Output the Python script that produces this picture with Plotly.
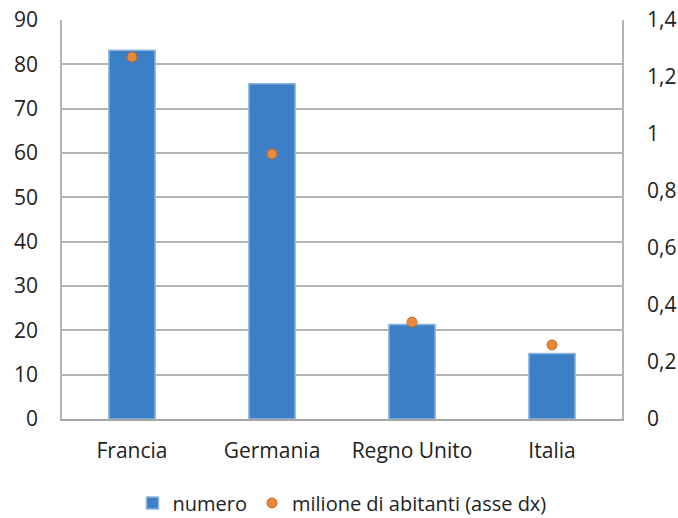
import plotly.graph_objects as go

categories = ["Francia", "Germania", "Regno Unito", "Italia"]
numero = [83.2, 75.6, 21.3, 14.8]
abitanti = [1.27, 0.93, 0.34, 0.26]

fig = go.Figure()
fig.add_trace(go.Bar(
    x=categories, y=numero, name="numero",
    marker=dict(color="#3B80C6", line=dict(color="#8FB4DE", width=1.5)),
    width=0.33, yaxis="y",
))
fig.add_trace(go.Scatter(
    x=categories, y=abitanti, name="milione di abitanti (asse dx)",
    mode="markers",
    marker=dict(color="#E8893A", size=10, symbol="circle",
                line=dict(color="#C46A26", width=1)),
    yaxis="y2",
))

fig.update_layout(
    width=678, height=518,
    margin=dict(l=62, r=56, t=20, b=99, autoexpand=False),
    plot_bgcolor="white", paper_bgcolor="white",
    separators=",.",
    font=dict(family="Open Sans", size=21, color="#222222"),
    bargap=0.67,
    showlegend=True,
    legend=dict(orientation="h", x=0.5, xanchor="center",
                yref="container", y=0.029, yanchor="middle",
                font=dict(size=20), itemwidth=30),
    xaxis=dict(showgrid=False, showline=True, linecolor="#A6A6A6", linewidth=1.5,
               ticks="", ticklabelstandoff=12, tickfont=dict(size=21), automargin=False),
    yaxis=dict(range=[0, 90], dtick=10, showgrid=True, gridcolor="#B3B3B3",
               gridwidth=1.5, showline=True, linecolor="#B3B3B3", linewidth=1.5,
               ticks="", ticklabelstandoff=18, zeroline=False, tickfont=dict(size=21),
               automargin=False),
    yaxis2=dict(range=[0, 1.4], dtick=0.2, overlaying="y", side="right",
                showgrid=False, showline=True, linecolor="#B3B3B3", linewidth=1.5,
                ticks="", ticklabelstandoff=19, zeroline=False, tickfont=dict(size=21),
                automargin=False),
)

fig.write_html("out.html")
